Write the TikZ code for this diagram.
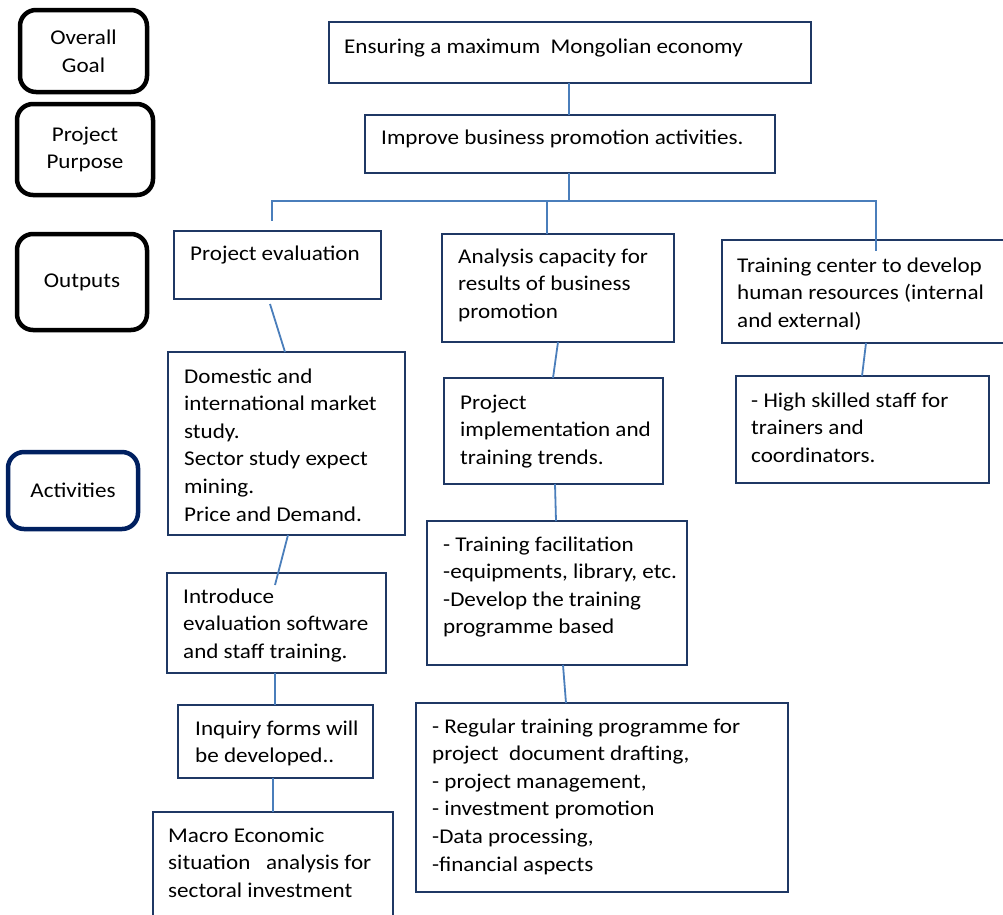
\documentclass[tikz,border=0pt]{standalone}
\usepackage{fontspec}
\setmainfont[FakeStretch=1.1]{Carlito}
\definecolor{navy}{HTML}{1F3864}
\definecolor{actnavy}{HTML}{002060}
\definecolor{linkblue}{HTML}{4A7EBB}
\newcommand{\lines}[1]{\begin{tabular}[t]{@{}l@{}}#1\end{tabular}}
\begin{document}
\begin{tikzpicture}[x=1pt,y=-1pt,
  txtfont/.style={font=\fontsize{21}{27.6}\selectfont},
  lbox/.style={draw=black, line width=4.5pt, rounded corners=16pt, align=center,
    inner sep=0pt, outer sep=0pt, anchor=north west, txtfont},
  bx/.style={draw=navy, line width=2.4pt, inner sep=0pt, outer sep=0pt, anchor=north west},
  txt/.style={inner sep=0pt, anchor=base west, txtfont},
  conn/.style={draw=linkblue, line width=1.8pt}]
\useasboundingbox (0,0) rectangle (1003,914);
\begin{scope}
\clip (0,0) rectangle (1003,914);
% left level boxes
\node[lbox, minimum width=127pt, minimum height=82pt] (lgoal) at (20,10) {Overall\\Goal};
\node[lbox, minimum width=136pt, minimum height=91pt] (lpurp) at (17,104) {Project\\Purpose};
\node[lbox, minimum width=130pt, minimum height=96pt] (lout) at (17,234) {Outputs};
\node[lbox, draw=actnavy, minimum width=130pt, minimum height=77pt] (lact) at (8,452) {Activities};

% boxes
\node[bx, minimum width=482pt, minimum height=61pt] (goal) at (329,22) {};
\node[bx, minimum width=410pt, minimum height=58pt] (purp) at (365,115) {};
\node[bx, minimum width=207pt, minimum height=68pt] (eval) at (174,231) {};
\node[bx, minimum width=232pt, minimum height=108pt] (anal) at (442,234) {};
\node[bx, minimum width=320pt, minimum height=103pt] (train) at (722,240) {};
\node[bx, minimum width=253pt, minimum height=107pt] (high) at (736,376) {};
\node[bx, minimum width=237pt, minimum height=183pt] (dom) at (168,352) {};
\node[bx, minimum width=219pt, minimum height=106pt] (impl) at (444,378) {};
\node[bx, minimum width=260pt, minimum height=144pt] (fac) at (427,521) {};
\node[bx, minimum width=219pt, minimum height=100pt] (intro) at (167,573) {};
\node[bx, minimum width=195pt, minimum height=73pt] (inq) at (178,705) {};
\node[bx, minimum width=372pt, minimum height=189pt] (reg) at (416,703) {};
\node[bx, minimum width=240pt, minimum height=140pt] (macro) at (153,812) {};

% texts
\node[txt] (tgoal) at ([xshift=15pt,yshift=-31pt]goal.north west) {Ensuring a maximum \ Mongolian economy};
\node[txt] (tpurp) at ([xshift=16pt,yshift=-29pt]purp.north west) {Improve business promotion activities.};
\node[txt] (teval) at ([xshift=16pt,yshift=-29pt]eval.north west) {Project evaluation};
\node[txt] (tanal) at ([xshift=16pt,yshift=-29pt]anal.north west) {\lines{Analysis capacity for\\results of business\\promotion}};
\node[txt] (ttrain) at ([xshift=15pt,yshift=-32pt]train.north west) {\lines{Training center to develop\\human resources (internal\\and external)}};
\node[txt] (thigh) at ([xshift=15pt,yshift=-31pt]high.north west) {\lines{- High skilled staff for\\trainers and\\coordinators.}};
\node[txt] (tdom) at ([xshift=16pt,yshift=-31pt]dom.north west) {\lines{Domestic and\\international market\\study.\\Sector study expect\\mining.\\Price and Demand.}};
\node[txt] (timpl) at ([xshift=16pt,yshift=-31pt]impl.north west) {\lines{Project\\implementation and\\training trends.}};
\node[txt] (tfac) at ([xshift=16pt,yshift=-30pt]fac.north west) {\lines{- Training facilitation\\-equipments, library, etc.\\-Develop the training\\programme based}};
\node[txt] (tintro) at ([xshift=16pt,yshift=-30pt]intro.north west) {\lines{Introduce\\evaluation software\\and staff training.}};
\node[txt] (tinq) at ([xshift=17pt,yshift=-30pt]inq.north west) {\lines{Inquiry forms will\\be developed..}};
\node[txt] (treg) at ([xshift=16pt,yshift=-30pt]reg.north west) {\lines{- Regular training programme for\\project \ document drafting,\\- project management,\\- investment promotion\\-Data processing,\\-financial aspects}};
\node[txt] (tmacro) at ([xshift=15pt,yshift=-30pt]macro.north west) {\lines{Macro Economic\\situation \ \ analysis for\\sectoral investment}};

% connectors
\coordinate (j) at (569,201);
\draw[conn] ([xshift=240pt]goal.south west) -- ([xshift=204pt]purp.north west);
\draw[conn] ([xshift=204pt]purp.south west) -- (j);
\draw[conn] (j) -| ([xshift=98pt,yshift=10pt]eval.north west);
\draw[conn] (j) -| ([xshift=105pt]anal.north west);
\draw[conn] (j) -| ([xshift=154pt,yshift=-11pt]train.north west);
\draw[conn] ([xshift=96pt,yshift=-5pt]eval.south west) -- ([xshift=117pt]dom.north west);
\draw[conn] ([xshift=120pt]dom.south west) -- ([xshift=108pt,yshift=-12pt]intro.north west);
\draw[conn] ([xshift=108pt]intro.south west) -- ([xshift=97pt]inq.north west);
\draw[conn] ([xshift=95pt]inq.south west) -- ([xshift=120pt]macro.north west);
\draw[conn] ([xshift=116pt]anal.south west) -- ([xshift=109pt]impl.north west);
\draw[conn] ([xshift=111pt]impl.south west) -- ([xshift=129pt]fac.north west);
\draw[conn] ([xshift=136pt]fac.south west) -- ([xshift=150pt]reg.north west);
\draw[conn] ([xshift=144pt]train.south west) -- ([xshift=126pt]high.north west);
\end{scope}
\end{tikzpicture}
\end{document}
